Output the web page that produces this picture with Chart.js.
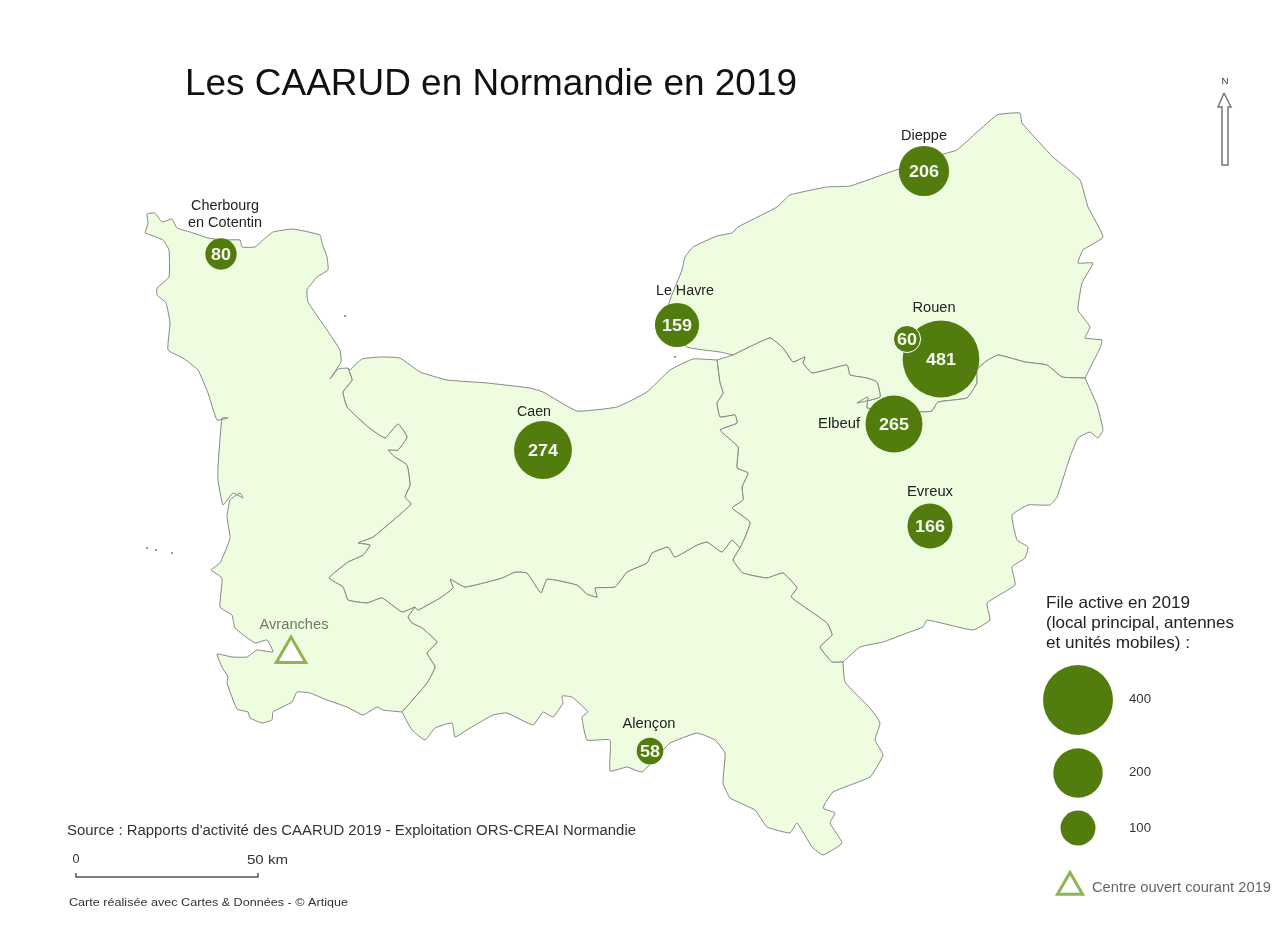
<!DOCTYPE html>
<html lang="fr">
<head>
    <meta charset="UTF-8">
    <title>Les CAARUD en Normandie en 2019</title>
    <script src="https://cdn.jsdelivr.net/npm/chart.js"></script>
    <style>
        body { margin: 0; background: #fff; }
        canvas { display: block; filter: blur(0.7px); }
    </style>
</head>
<body>
<canvas id="map" width="1287" height="934"></canvas>

<script>
    // City data
    const cityNames = ['Dieppe', 'Cherbourg en Cotentin', 'Le Havre', 'Rouen', 'Rouen (antenne)', 'Elbeuf', 'Caen', 'Evreux', 'Alençon'];
    const cityValues = [206, 80, 159, 481, 60, 265, 274, 166, 58];
    const cityX = [924, 221, 677, 941, 907, 894, 543, 930, 650];
    const cityY = [171, 254, 325, 359, 339, 424, 450, 526, 751];

    // Size legend
    const legendValues = [400, 200, 100];
    const legendX = [1078, 1078, 1078];
    const legendY = [700, 773, 828];

    // Open centres (triangles)
    const centreX = [291, 1070];
    const centreY = [654, 887];

    // Outline pieces, in map units (shared borders are reused)
    const mancheNorthCoast = [[145,233],[148,223],[147,214],[155,213],[162,222],[172,219],[177,228],[190,232],[208,238],[222,240],[240,240],[242,247],[255,247],[263,240],[273,232],[293,229],[320,235],[322,243],[327,257],[328,270],[317,277],[307,290],[308,302],[327,330],[340,350],[341,362],[330,379],[338,369],[348,368]];
    const mancheCalvadosBorder = [[348,368],[352,380],[343,392],[347,407],[368,427],[385,438],[398,424],[407,437],[398,450],[388,450],[395,457],[407,465],[410,485],[405,497],[411,504],[397,517],[373,537],[358,543],[370,545],[363,555],[348,562],[329,578],[343,587],[348,600],[367,603],[382,598],[402,612],[415,607]];
    const mancheOrneBorder = [[415,607],[408,617],[412,623],[422,628],[437,642],[427,653],[435,667],[427,683],[402,712]];
    const mancheSouthWestCoast = [[402,712],[383,710],[377,707],[363,715],[347,707],[327,700],[310,693],[297,692],[292,702],[273,712],[272,720],[262,723],[250,718],[248,712],[237,709],[227,683],[228,677],[222,667],[217,654],[232,657],[247,657],[257,650],[273,652],[267,640],[255,643],[235,628],[232,615],[220,607],[222,578],[211,570],[220,563],[230,538],[227,517],[230,500],[240,493],[243,498],[233,493],[223,505],[218,480],[218,467],[222,418],[228,418],[217,420],[208,393],[198,370],[183,358],[168,350],[170,323],[166,303],[157,295],[157,288],[169,277],[169,250],[163,240],[145,233]];

    const calvadosCoast = [[348,368],[350,370],[362,359],[380,357],[400,358],[420,372],[447,380],[487,383],[530,388],[543,392],[577,411],[617,407],[647,392],[670,370],[693,359],[717,360]];
    const calvadosOrneBorder = [[415,607],[418,610],[440,598],[453,588],[450,579],[465,587],[502,578],[515,572],[527,573],[541,593],[547,579],[577,585],[587,594],[597,597],[595,588],[615,587],[627,572],[647,563],[652,553],[668,547],[675,557],[697,545],[707,542],[722,552],[732,540],[740,548]];
    const calvadosEureBorder = [[717,360],[720,383],[723,393],[717,403],[720,417],[735,415],[737,423],[720,430],[738,447],[737,468],[748,473],[742,487],[743,500],[732,508],[750,522],[745,537],[740,548]];

    const orneEureBorder = [[740,548],[733,560],[743,573],[767,578],[783,573],[797,588],[791,597],[827,623],[832,635],[820,647],[832,662],[843,662]];
    const orneSouthCoast = [[843,662],[845,682],[870,708],[880,723],[875,740],[883,755],[870,777],[833,792],[823,808],[835,813],[830,823],[842,843],[823,855],[812,847],[797,823],[790,833],[767,827],[755,810],[730,798],[723,783],[725,753],[715,740],[697,733],[670,743],[665,748],[642,772],[627,767],[610,771],[610,740],[587,740],[582,717],[588,712],[572,697],[562,696],[563,703],[553,717],[543,712],[533,725],[507,713],[493,715],[470,728],[455,737],[452,723],[435,728],[425,740],[412,730],[402,712]];

    const eureCoast = [[717,360],[733,355]];
    const seineEureBorder = [[733,355],[770,338],[783,348],[793,362],[805,357],[803,363],[812,373],[847,365],[850,375],[867,378],[877,382],[880,397],[857,403],[868,397],[867,408],[922,412],[932,411],[938,402],[967,398],[977,383],[977,370],[985,362],[998,355],[1025,362],[1047,365],[1062,377],[1085,378]];
    const eureEastBorder = [[1085,378],[1097,405],[1103,430],[1098,438],[1090,432],[1078,438],[1070,457],[1057,497],[1050,505],[1028,505],[1012,515],[1017,540],[1028,547],[1025,558],[1012,567],[1015,585],[987,603],[990,620],[973,630],[927,620],[923,627],[907,633],[883,642],[860,647],[843,662]];
    const seineCoast = [[733,355],[720,352],[687,347],[665,322],[670,300],[682,270],[685,257],[693,247],[717,236],[732,233],[738,227],[777,207],[790,195],[827,187],[850,186],[893,171],[947,153],[957,150],[997,115],[1020,113],[1022,123],[1053,157],[1080,180],[1088,207],[1103,237],[1083,250],[1078,263],[1093,263],[1082,283],[1078,310],[1090,327],[1085,338],[1102,340],[1100,348],[1085,378]];

    const islandX = [147, 156, 172, 345, 675];
    const islandY = [548, 550, 553, 316, 357];

    const scaleBar = [[76,873],[76,877],[258,877],[258,873]];
    const northArrow = [[1224,93],[1218,107],[1222,107],[1222,165],[1228,165],[1228,107],[1231,107],[1224,93]];

    const GREEN = '#527d0e';
    const LAND = '#eefde0';
    const EDGE = '#858585';

    const radiusOf = v => 1.75 * Math.sqrt(v);
    const toPoints = pieces => pieces.flat().map(p => ({ x: p[0], y: p[1] }));
    const rev = a => a.slice().reverse();

    function region(pieces) {
        return {
            type: 'scatter',
            data: toPoints(pieces),
            showLine: true,
            fill: 'shape',
            backgroundColor: LAND,
            borderColor: EDGE,
            borderWidth: 1,
            tension: 0.12,
            pointRadius: 0,
            order: 5
        };
    }

    const regions = [
        region([mancheNorthCoast, mancheCalvadosBorder, mancheOrneBorder, mancheSouthWestCoast]),
        region([calvadosCoast, calvadosEureBorder, rev(calvadosOrneBorder), rev(mancheCalvadosBorder)]),
        region([calvadosOrneBorder, orneEureBorder, orneSouthCoast, rev(mancheOrneBorder)]),
        region([eureCoast, seineEureBorder, eureEastBorder, rev(orneEureBorder), rev(calvadosEureBorder)]),
        region([seineCoast, rev(seineEureBorder)])
    ];

    const bubbles = {
        type: 'bubble',
        data: cityValues.map((v, i) => ({ x: cityX[i], y: cityY[i], r: radiusOf(v) })),
        backgroundColor: GREEN,
        borderColor: cityValues.map(v => v === 60 ? '#ffffff' : GREEN),
        borderWidth: cityValues.map(v => v === 60 ? 1 : 0),
        order: 1
    };

    const legendBubbles = {
        type: 'bubble',
        data: legendValues.map((v, i) => ({ x: legendX[i], y: legendY[i], r: radiusOf(v) })),
        backgroundColor: GREEN,
        borderWidth: 0,
        order: 1
    };

    const centres = {
        type: 'scatter',
        data: centreX.map((x, i) => ({ x: x, y: centreY[i] })),
        pointStyle: 'triangle',
        pointRadius: [17, 14.5],
        pointBackgroundColor: '#ffffff',
        pointBorderColor: '#8fb552',
        pointBorderWidth: 3,
        order: 2
    };

    const islands = {
        type: 'scatter',
        data: islandX.map((x, i) => ({ x: x, y: islandY[i] })),
        pointRadius: 1,
        pointBackgroundColor: '#777777',
        pointBorderWidth: 0,
        order: 4
    };

    function lineSet(points, color, width, fillColor) {
        return {
            type: 'scatter',
            data: toPoints([points]),
            showLine: true,
            borderColor: color,
            borderWidth: width,
            pointRadius: 0,
            tension: 0,
            fill: fillColor ? 'shape' : false,
            backgroundColor: fillColor,
            order: 3
        };
    }

    // Text: [text, x, y, size, colour, align, width the text has to span]
    const LS = '"Liberation Sans", Arial, sans-serif';
    const mapTexts = [
        ['Les CAARUD en Normandie en 2019', 185, 85, 36, '#111', 'left', 612],
        ['N', 1225, 82, 9, '#333', 'center', 7],
        ['Dieppe', 924, 136, 14, '#222', 'center', 46],
        ['Cherbourg', 225, 206, 14, '#222', 'center', 68],
        ['en Cotentin', 225, 223, 14, '#222', 'center', 74],
        ['Le Havre', 685, 291, 14, '#222', 'center', 58],
        ['Rouen', 934, 308, 14, '#222', 'center', 43],
        ['Caen', 534, 412, 14, '#222', 'center', 34],
        ['Elbeuf', 839, 424, 14, '#222', 'center', 42],
        ['Evreux', 930, 492, 14, '#222', 'center', 46],
        ['Alençon', 649, 724, 14, '#222', 'center', 53],
        ['Avranches', 294, 625, 14, '#6f7a66', 'center', 69],
        ['File active en 2019', 1046, 603, 16.5, '#222', 'left', 144],
        ['(local principal, antennes', 1046, 623, 16.5, '#222', 'left', 188],
        ['et unités mobiles) :', 1046, 643, 16.5, '#222', 'left', 144],
        ['400', 1140, 700, 12, '#333', 'center', 22],
        ['200', 1140, 773, 12, '#333', 'center', 22],
        ['100', 1140, 829, 12, '#333', 'center', 22],
        ['Centre ouvert courant 2019', 1092, 888, 14.5, '#666', 'left', 179],
        ['Source : Rapports d\'activité des CAARUD 2019 - Exploitation ORS-CREAI Normandie', 67, 831, 14, '#333', 'left', 569],
        ['0', 76, 860, 12, '#333', 'center', 7],
        ['50 km', 247, 860, 13, '#333', 'left', 41],
        ['Carte réalisée avec Cartes & Données - © Artique', 69, 903, 11, '#333', 'left', 279]
    ];

    // The source map has wide lettering, so text gets stretched to its measured width
    function stretchedText(ctx, text, x, y, width) {
        const k = width / ctx.measureText(text).width;
        ctx.save();
        ctx.translate(x, y);
        ctx.scale(k, 1);
        ctx.fillText(text, 0, 0);
        ctx.restore();
    }

    const textPlugin = {
        id: 'mapText',
        afterDatasetsDraw(chart) {
            const ctx = chart.ctx;
            const sx = chart.scales.x, sy = chart.scales.y;
            ctx.save();
            ctx.textBaseline = 'middle';
            mapTexts.forEach(t => {
                ctx.font = t[3] + 'px ' + LS;
                ctx.fillStyle = t[4];
                ctx.textAlign = t[5];
                stretchedText(ctx, t[0], sx.getPixelForValue(t[1]), sy.getPixelForValue(t[2]), t[6]);
            });
            ctx.fillStyle = '#f4f8ee';
            ctx.textAlign = 'center';
            ctx.font = 'bold 17px ' + LS;
            cityValues.forEach((v, i) => {
                const s = String(v);
                stretchedText(ctx, s, sx.getPixelForValue(cityX[i]), sy.getPixelForValue(cityY[i]) + 1, s.length * 10);
            });
            ctx.restore();
        }
    };

    new Chart(document.getElementById('map'), {
        type: 'scatter',
        data: {
            datasets: [
                ...regions,
                bubbles,
                legendBubbles,
                centres,
                islands,
                lineSet(scaleBar, '#555', 1.5),
                lineSet(northArrow, '#777', 1.5, '#ffffff')
            ]
        },
        options: {
            responsive: false,
            animation: false,
            layout: { padding: 0, autoPadding: false },
            clip: false,
            plugins: { legend: { display: false }, tooltip: { enabled: false } },
            scales: {
                x: { type: 'linear', min: 0, max: 1287, display: false },
                y: { type: 'linear', min: 0, max: 934, reverse: true, display: false }
            }
        },
        plugins: [textPlugin]
    });
</script>
</body>
</html>
